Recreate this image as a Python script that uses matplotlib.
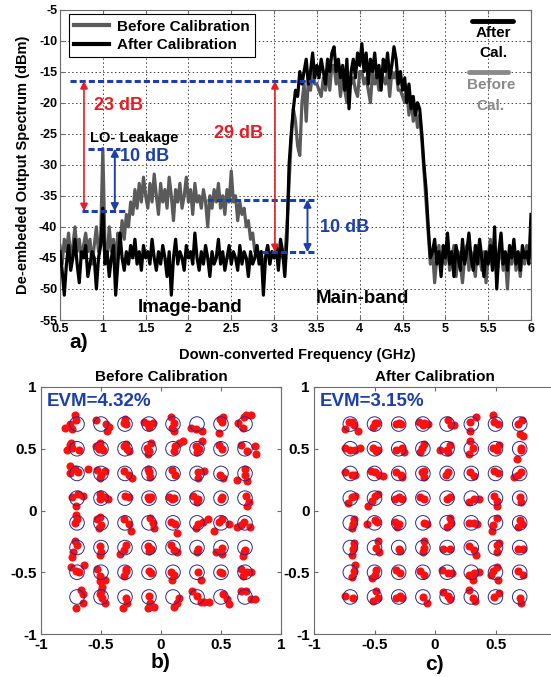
import numpy as np
import matplotlib
matplotlib.use("Agg")
import matplotlib.pyplot as plt
from matplotlib.lines import Line2D

plt.rcParams['font.family'] = ['Liberation Sans', 'DejaVu Sans']
plt.rcParams['font.weight'] = 'bold'
plt.rcParams['axes.labelweight'] = 'bold'
plt.rcParams['axes.titleweight'] = 'bold'
plt.rcParams['axes.unicode_minus'] = False

# ---------------- spectrum (dBm), 0.5 .. 6.0 GHz in 0.025 GHz steps ----------------
after_cal = [
    -44, -47, -51, -46, -43, -47, -45, -42, -46, -49, -44, -45, -43, -48, -46, -44, -45, -50, -45, -43, -37,
    -46, -44, -48, -45, -43, -51, -46, -41, -45, -47, -44, -46, -43, -45, -42, -46, -44, -47, -43, -45,
    -44, -46, -42, -45, -47, -44, -46, -43, -45, -48, -44, -51, -45, -42, -46, -44, -45, -47, -43, -45,
    -44, -46, -41, -45, -47, -44, -46, -43, -45, -48, -44, -46, -45, -42, -46, -44, -47, -45, -43, -46,
    -44, -45, -47, -43, -46, -44, -45, -48, -44, -46, -45, -43, -46, -44, -51, -45, -43, -46, -44, -45,
    -43, -47, -42, -44, -48, -42, -30, -25, -21, -18, -19, -15, -17, -15, -13, -17, -15, -12, -16, -14,
    -16, -13, -15, -17, -13, -15, -12, -11, -15, -13, -16, -14, -18, -13, -21, -15, -13, -16, -12, -14,
    -10.5, -15, -12, -17, -13, -15, -12, -16, -14, -18, -13, -15, -12, -16, -14, -11, -13, -17, -15, -18,
    -16, -20, -17, -21, -19, -22, -20, -21, -25, -30, -34, -40, -45, -44, -42, -46, -44, -48, -43, -45,
    -41, -46, -44, -48, -43, -45, -47, -42, -46, -44, -41, -45, -47, -43, -46, -42, -45, -48, -44, -46,
    -43, -47, -40, -50, -44, -41, -46, -44, -47, -43, -45, -42, -46, -44, -47, -43, -45, -44, -46, -38,
]
before_cal = [
    -43, -46, -42, -44, -41, -45, -43, -40, -44, -42, -45, -43, -41, -44, -42, -46, -43, -40, -44, -42, -27.4,
    -43, -45, -40, -44, -42, -46, -41, -43, -39, -42, -38, -40, -36, -38, -34, -37, -33, -36, -32, -35,
    -37, -33, -36, -31.5, -35, -38, -33, -36, -34, -37, -32, -35, -39, -34, -36, -33, -37, -35, -32, -36,
    -34, -38, -33, -36, -35, -37, -34, -36, -40, -35, -37, -34, -36, -33, -37, -35, -38, -34, -36, -31,
    -36, -35, -39, -36, -38, -37, -40, -39, -42, -41, -44, -43, -45, -44, -47, -45, -43, -46, -44, -45,
    -44, -46, -43, -45, -45, -40, -33, -26, -21, -23, -27, -28.5, -20, -17, -23, -16, -18, -15, -17, -17,
    -18, -19, -16, -18, -15, -18, -14, -14, -17, -15, -19, -16, -18, -20, -16, -17, -16, -18, -19, -15,
    -15, -17, -16, -18, -20, -15, -17, -16, -18, -15, -16, -17, -15, -19, -15, -16, -15, -18, -18, -19,
    -20, -18, -22, -19, -23, -21, -24, -22, -26, -31, -36, -41, -46, -44, -49, -45, -43, -47, -44, -46,
    -42, -47, -45, -43, -48, -44, -46, -49, -45, -43, -47, -44, -46, -48, -43, -45, -47, -44, -49, -45,
    -42, -46, -44, -48, -45, -43, -47, -45, -50, -44, -46, -43, -47, -45, -48, -44, -46, -43, -45, -44,
]
freq_start, freq_stop = 0.5, 6.0
x_ticks = [0.5, 1, 1.5, 2, 2.5, 3, 3.5, 4, 4.5, 5, 5.5, 6]
x_tick_labels = ['0.5', '1', '1.5', '2', '2.5', '3', '3.5', '4', '4.5', '5', '5.5', '6']
y_ticks = [-55, -50, -45, -40, -35, -30, -25, -20, -15, -10, -5]
y_tick_labels = ['-55', '-50', '-45', '-40', '-35', '-30', '-25', '-20', '-15', '-10', '-5']

# marker levels (dBm) used for the rejection annotations
main_level = -16.5
lo_level = -27.4
image_before_level = -37.5
image_before2_level = -35.6
image_after_level = -44.1

# ---------------- 64-QAM constellations ----------------
levels = [-0.7, -0.5, -0.3, -0.1, 0.1, 0.3, 0.5, 0.7]
# received-symbol offsets (in 0.01 units) per ideal point; rows go Q = 0.7 .. -0.7,
# entries in each row go I = -0.7 .. 0.7
before_rows = [
    [[(-10, -3), (-6, 0), (-2, 7), (-4, -4), (-1, 3)], [(-4, 3), (4, 0), (5, -6), (7, -2)], [(0, 4), (1, 0), (-1, 1)],
     [(-4, 2), (-1, 0), (3, 1), (0, -2)], [(-2, 6), (1, 1), (-1, -3), (1, -6)], [(-5, -3), (-1, -4), (4, -6)],
     [(-1, 4), (1, 2), (2, 6), (-2, -7)], [(-6, 1), (-1, 6), (1, 7), (5, 7), (-2, -3)]],
    [[(-6, 3), (-8, -1), (-4, 1), (2, -1), (-5, 5)], [(-4, 2), (-2, 0), (0, 1), (2, -1), (-1, 5)], [(-1, 2), (2, 0), (3, -2), (1, 4)],
     [(-2, 1), (0, -2), (2, 5), (-1, -4)], [(2, 2), (5, 5), (8, 6), (1, -2)], [(-1, 2), (2, 0), (4, 6), (0, -3)],
     [(-2, 3), (1, 0)], [(-3, 3), (8, 2), (9, -4), (2, -2)]],
    [[(-6, 6), (-2, 4), (1, 1), (-6, 0), (9, 4)], [(-3, 3), (0, -1), (3, 2), (-1, -4)], [(-1, 2), (3, -1), (6, -4)],
     [(0, 1), (1, -3), (-1, 4)], [(-1, 3), (2, -1)], [(1, 1), (6, 2), (1, -4)], [(-1, -1), (2, -4)],
     [(0, 4), (0, -1), (-7, -5), (2, -6)]],
    [[(-4, 1), (1, 3), (5, 2), (-1, -6)], [(-1, 3), (3, 1), (6, -1), (-1, -1)], [(0, 2), (3, 1)],
     [(-1, 1), (2, 1), (0, -1)], [(-3, 1), (-1, -1), (1, 0)], [(-3, 2), (1, -1), (0, -3)], [(0, -1), (1, 1)],
     [(1, 2), (3, -3), (2, -6)]],
    [[(0, 3), (-2, 0), (-1, 6)], [(-3, 3), (0, -2), (-1, 5), (-2, -4)], [(-1, 3), (3, -1), (5, -7)],
     [(3, 0), (4, -4), (1, 4)], [(-2, 1), (2, -1), (3, -8)], [(-1, -4), (1, -1), (5, 1), (9, 3)],
     [(-2, 1), (1, 3), (-6, -7)], [(-13, -1), (-7, -3), (-3, -2), (4, -3), (-1, 1)]],
    [[(-2, 5), (0, 2), (-3, -4), (-4, -8)], [(-1, 1), (0, -4), (-1, -6)], [(1, 2), (-1, -2), (-4, -5)],
     [(2, -1), (0, -3), (-1, 1)], [(-2, 2), (1, -2), (3, -4)], [(1, -1), (0, -4)], [(-4, -4), (1, 0), (1, -5)],
     [(0, -2), (-2, -7), (-1, -4)]],
    [[(-5, 4), (-1, 1), (2, 0), (6, 6)], [(-3, 3), (-1, -3), (-1, -7), (1, -12), (3, -6)], [(1, 1), (-1, -3), (1, 3)],
     [(0, 1), (2, -1)], [(-2, 0), (1, -2), (-1, -6)], [(1, 0), (3, -6)], [(-1, 0), (1, -1)],
     [(-3, 3), (2, 0), (5, 0), (-2, -3)]],
    [[(3, 6), (5, 2), (5, -5), (-1, -9)], [(-1, 2), (1, -1), (3, -5), (0, 5)], [(1, -1), (2, -5), (-2, -9)],
     [(0, 1), (1, -5), (4, -8), (-1, -9)], [(5, -1), (3, -5), (1, -8)], [(-4, 5), (0, 1), (3, -4), (6, -4), (10, -4)],
     [(2, 2), (5, -2), (7, -6)], [(-3, 5), (1, 5), (5, -2), (8, -2)]],
]
after_rows = [
    [[(-1, 2), (3, -1), (-4, -4), (6, -6), (1, 2)], [(0, 1), (-1, -2), (2, 1)], [(0, 1), (2, 0), (-2, 0)],
     [(-3, 2), (1, 1), (4, 0), (0, -1)], [(1, 3), (3, -1), (6, -1)], [(-1, 2), (4, 6), (-1, -6)],
     [(-2, 7), (-1, 2), (2, 0)], [(2, 3), (-1, 0), (0, -8), (3, -10)]],
    [[(-4, 1), (0, -1), (4, -1), (8, 1)], [(-1, 1), (1, -2), (3, -1)], [(-2, -1), (3, 1), (4, -3)],
     [(-1, 1), (1, 4), (-2, -3)], [(-6, -1), (0, -1), (2, 3), (1, -3)], [(-1, 6), (1, 1), (-2, -4)],
     [(-2, 1), (1, -1), (3, 3)], [(1, 1), (1, -1), (-2, -8)]],
    [[(-4, 1), (1, -1), (4, -1)], [(-3, 2), (0, 1), (4, -1), (7, -2)], [(-2, 1), (2, -1), (3, -3)],
     [(-1, 1), (1, -3), (1, 2)], [(-1, -1), (1, 1)], [(-1, 1), (2, -2)], [(-1, 2), (2, 0)],
     [(-5, -3), (-1, -1), (1, 1)]],
    [[(-2, -4), (1, 1), (4, 2)], [(-5, -6), (-2, -2), (0, 2), (3, 3)], [(-3, -1), (0, 1), (3, -1)],
     [(-2, 1), (1, -1)], [(0, -1), (2, 1)], [(-2, -3), (2, -1), (6, -1)], [(-1, 2), (1, -2), (1, -6)],
     [(0, 1), (1, -3)]],
    [[(3, 3), (2, -1), (1, -4)], [(-6, -1), (2, 1), (0, 2)], [(-3, 1), (-1, -3), (0, -1)],
     [(1, 0), (3, -1)], [(2, 4), (0, -3), (3, 0)], [(-2, 0), (2, 0), (5, -1)], [(1, 4), (-2, -2), (-3, -7)],
     [(0, 2), (2, -1), (-1, -3)]],
    [[(3, 4), (2, -1), (1, -6)], [(3, 5), (1, 0), (4, -4)], [(0, -1), (1, -3)],
     [(1, 5), (1, 0), (0, -4)], [(-3, -1), (2, -1)], [(-2, 1), (2, -2), (4, -6)], [(1, 2), (3, 4), (1, -4)],
     [(-1, -1), (3, -1)]],
    [[(4, 6), (3, 1), (1, -4)], [(1, 2), (0, -2), (-2, -5)], [(-2, 2), (1, -1)],
     [(-2, 1), (1, -2)], [(-4, 2), (1, -1), (4, -1)], [(-2, -2), (2, -1), (6, 0), (1, -6)],
     [(-2, 1), (1, 4), (2, -6), (-4, -2)], [(-1, 1), (3, -2)]],
    [[(-4, 1), (2, -1)], [(1, 5), (3, -1), (-1, -3)], [(-2, -1), (1, 1), (3, -1)],
     [(0, 0), (3, -5)], [(-3, 4), (1, 1), (2, -2)], [(-2, 6), (1, -1), (3, -3)], [(-1, 0), (3, 3)],
     [(0, -1), (1, -5)]],
]
evm_before = 4.32
evm_after = 3.15
iq_ticks = [-1, -0.5, 0, 0.5, 1]
iq_tick_labels = ['-1', '-0.5', '0', '0.5', '1']

GRAY = '#5a5a5a'
BLUE = '#1c3faa'
RED = '#e41e26'
SPINE = '#6b6b6b'

W, H = 551, 677
fig = plt.figure(figsize=(W / 100, H / 100), dpi=100)


def px_axes(left, top, right, bottom):
    return fig.add_axes([left / W, 1 - bottom / H, (right - left) / W, (bottom - top) / H])


# ======================= a) spectrum =======================
ax = px_axes(60, 9.5, 531, 320)
freq = np.linspace(freq_start, freq_stop, len(after_cal))
ax.plot(freq, before_cal, color=GRAY, lw=2.3, zorder=3)
ax.plot(freq, after_cal, color='black', lw=2.3, zorder=4)
ax.set_xlim(freq_start, freq_stop)
ax.set_ylim(-55, -5)
ax.set_xticks(x_ticks, labels=x_tick_labels, fontweight='bold', fontsize=9)
ax.set_yticks(y_ticks, labels=y_tick_labels, fontweight='bold', fontsize=9)
ax.grid(True, linestyle=(0, (1.5, 2.5)), color='#444444', lw=0.7, zorder=0)
ax.tick_params(direction='in', top=True, right=True, length=3, pad=2, color=SPINE)
for s in ax.spines.values():
    s.set_color(SPINE)

ax.set_xlabel('Down-converted Frequency (GHz)', fontsize=10.5, fontweight='bold')
ax.xaxis.set_label_coords((297 - 60) / 471, -0.09)
ax.set_ylabel('De-embeded Output Spectrum (dBm)', fontsize=10.5, fontweight='bold')
ax.yaxis.set_label_coords(-0.064, 0.5)

leg = ax.legend([Line2D([], [], color=GRAY, lw=3), Line2D([], [], color='black', lw=3)],
                ['Before Calibration', 'After Calibration'], loc='upper left',
                bbox_to_anchor=(0.019, 0.985), borderaxespad=0, fancybox=False,
                edgecolor='black', framealpha=1, handlelength=2.3, borderpad=0.35,
                labelspacing=0.3, handletextpad=0.5, prop={'weight': 'bold', 'size': 11})
leg.get_frame().set_linewidth(0.8)

# side key
ax.plot([5.31, 5.79], [-6.85, -6.85], color='black', lw=3.5, solid_capstyle='round', zorder=5)
ax.text(5.56, -8.8, 'After', ha='center', va='center', fontsize=11, zorder=5)
ax.text(5.56, -12.0, 'Cal.', ha='center', va='center', fontsize=11, zorder=5)
ax.plot([5.28, 5.73], [-15.1, -15.1], color='#8a8a8a', lw=3.5, solid_capstyle='round', zorder=5)
ax.text(5.53, -17.2, 'Before', ha='center', va='center', fontsize=11, color='#8a8a8a', zorder=5)
ax.text(5.53, -20.6, 'Cal.', ha='center', va='center', fontsize=11, color='#8a8a8a', zorder=5)

# level markers
dash = dict(color=BLUE, lw=2.2, linestyle=(0, (2, 1)), zorder=6)
ax.plot([0.62, 3.51], [main_level, main_level], **dash)
ax.plot([0.83, 1.20], [lo_level, lo_level], **dash)
ax.plot([0.76, 1.26], [image_before_level, image_before_level], **dash)
ax.plot([2.22, 3.50], [image_before2_level, image_before2_level], **dash)
ax.plot([2.86, 3.50], [image_after_level, image_after_level], **dash)


def double_arrow(x, y0, y1, color, lw):
    ax.annotate('', xy=(x, y1), xytext=(x, y0),
                arrowprops=dict(arrowstyle='<|-|>', color=color, lw=lw, mutation_scale=11,
                                shrinkA=0, shrinkB=0), zorder=7)


double_arrow(0.78, main_level, image_before_level, RED, 1.2)
double_arrow(3.01, main_level, image_after_level, RED, 1.2)
double_arrow(1.14, lo_level, image_before_level, BLUE, 1.4)
double_arrow(3.39, image_before2_level, image_after_level, BLUE, 1.4)

ax.text(1.18, -20.4, '23 dB', color=RED, fontsize=13, ha='center', va='center', zorder=8)
ax.text(2.58, -24.9, '29 dB', color=RED, fontsize=13, ha='center', va='center', zorder=8)
ax.text(1.37, -25.7, 'LO- Leakage', color='black', fontsize=10.5, ha='center', va='center', zorder=8)
ax.text(1.49, -28.6, '10 dB', color=BLUE, fontsize=13, ha='center', va='center', zorder=8)
ax.text(3.82, -40.1, '10 dB', color=BLUE, fontsize=13, ha='center', va='center', zorder=8)
ax.text(2.02, -53.0, 'Image-band', color='black', fontsize=13.5, ha='center', va='center', zorder=8)
ax.text(4.03, -51.5, 'Main-band', color='black', fontsize=13.5, ha='center', va='center', zorder=8)

fig.text(79 / W, 1 - 343 / H, 'a)', fontsize=15, ha='center', va='center')


# ======================= b), c) constellations =======================
def received(rows):
    xs, ys = [], []
    for r, row in enumerate(rows):
        q = levels[len(levels) - 1 - r]
        for c, cluster in enumerate(row):
            i = levels[c]
            for dx, dy in cluster:
                xs.append(i + dx / 100)
                ys.append(q + dy / 100)
    return xs, ys


ideal_i, ideal_q = np.meshgrid(levels, levels)


def constellation(axc, rows, title, evm, xlabels):
    xs, ys = received(rows)
    axc.scatter(xs, ys, s=34, c='#ff1010', linewidths=0, zorder=2)
    axc.scatter(ideal_i.ravel(), ideal_q.ravel(), s=110, facecolors='none',
                edgecolors='#2a2a8a', linewidths=0.7, zorder=3)
    axc.set_xlim(-1, 1)
    axc.set_ylim(-1, 1)
    axc.set_xticks(iq_ticks, labels=xlabels, fontweight='bold', fontsize=11)
    axc.set_yticks(iq_ticks, labels=iq_tick_labels, fontweight='bold', fontsize=11)
    axc.tick_params(direction='in', top=True, right=True, length=3, pad=3, color=SPINE)
    for s in axc.spines.values():
        s.set_color(SPINE)
    axc.set_title(title, fontsize=11, pad=4, fontweight='bold')
    axc.text(-0.95, 0.88, 'EVM=%.2f%%' % evm, color=BLUE, fontsize=13.5, ha='left', va='center')


axb = px_axes(41, 387, 281, 634)
constellation(axb, before_rows, 'Before Calibration', evm_before, iq_tick_labels)
axc = px_axes(314, 387, 556, 634)
constellation(axc, after_rows, 'After Calibration', evm_after, iq_tick_labels[:-1] + [''])

fig.text(161 / W, 1 - 663 / H, 'b)', fontsize=15, ha='center', va='center')
fig.text(434 / W, 1 - 664 / H, 'c)', fontsize=15, ha='center', va='center')

fig.savefig('out.png', dpi=100)
